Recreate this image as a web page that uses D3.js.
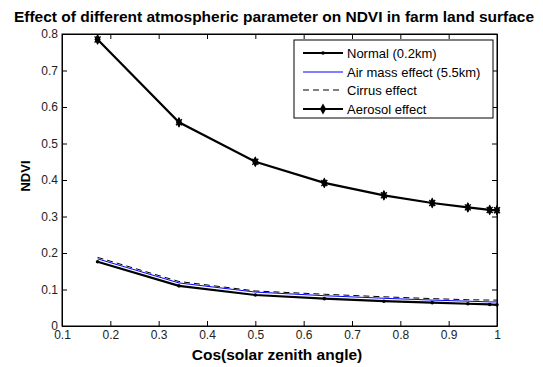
<!DOCTYPE html>
<html>
<head>
<script src="https://d3js.org/d3.v7.min.js"></script>
<style>
  body { margin: 0; background: #fff; font-family: "Liberation Sans", Arial, sans-serif; }
</style>
</head>
<body>
<div id="chart"></div>
<script>
// cos(solar zenith angle) for 80,70,...,0 degrees
var cosZenith = [0.1736, 0.342, 0.5, 0.6428, 0.766, 0.866, 0.9397, 0.9848, 1.0];
var normal   = [0.176, 0.110, 0.085, 0.075, 0.068, 0.064, 0.061, 0.059, 0.058];
var airMass  = [0.184, 0.118, 0.093, 0.083, 0.076, 0.071, 0.068, 0.066, 0.066];
var cirrus   = [0.188, 0.122, 0.096, 0.087, 0.080, 0.075, 0.072, 0.071, 0.071];
var aerosol  = [0.785, 0.558, 0.450, 0.392, 0.358, 0.337, 0.325, 0.318, 0.317];
var xTicks = [0.1, 0.2, 0.3, 0.4, 0.5, 0.6, 0.7, 0.8, 0.9, 1];
var yTicks = [0, 0.1, 0.2, 0.3, 0.4, 0.5, 0.6, 0.7, 0.8];
var legendNames = ["Normal (0.2km)", "Air mass effect (5.5km)", "Cirrus effect", "Aerosol effect"];

var W = 543, H = 367;
var margin = {top: 34, right: 46, bottom: 41, left: 62};
var width = W - margin.left - margin.right;
var height = H - margin.top - margin.bottom;

var svg = d3.select("#chart").append("svg")
    .attr("width", W).attr("height", H);

var g = svg.append("g")
    .attr("transform", "translate(" + margin.left + "," + margin.top + ")");

var x = d3.scaleLinear().domain([0.1, 1]).range([0, width]);
var y = d3.scaleLinear().domain([0, 0.8]).range([height, 0]);

// axes with inward ticks, MATLAB style box
var fmt = function(d) { return d3.format("")(+d.toFixed(1)); };
g.append("g").attr("transform", "translate(0," + height + ")")
    .call(d3.axisBottom(x).tickValues(xTicks).tickSizeInner(-5).tickSizeOuter(0).tickPadding(4).tickFormat(fmt));
g.append("g")
    .call(d3.axisLeft(y).tickValues(yTicks).tickSizeInner(-5).tickSizeOuter(0).tickPadding(4).tickFormat(fmt));
g.append("g").call(d3.axisTop(x).tickValues(xTicks).tickSizeInner(-5).tickSizeOuter(0).tickFormat(""));
g.append("g").attr("transform", "translate(" + width + ",0)")
    .call(d3.axisRight(y).tickValues(yTicks).tickSizeInner(-5).tickSizeOuter(0).tickFormat(""));
g.selectAll(".domain").attr("stroke", "#000");
g.selectAll(".tick line").attr("stroke", "#000");
g.selectAll(".tick text").attr("font-size", 12).attr("fill", "#222")
    .attr("font-family", "Liberation Sans, Arial, sans-serif");

g.append("rect").attr("width", width).attr("height", height)
    .attr("fill", "none").attr("stroke", "#000").attr("stroke-width", 1);

var line = d3.line().x(function(d) { return x(d[0]); }).y(function(d) { return y(d[1]); });
function pts(arr) { return cosZenith.map(function(c, i) { return [c, arr[i]]; }); }

g.append("path").datum(pts(normal)).attr("d", line)
    .attr("fill", "none").attr("stroke", "#000").attr("stroke-width", 2.2);
g.append("path").datum(pts(airMass)).attr("d", line)
    .attr("fill", "none").attr("stroke", "#0000ff").attr("stroke-width", 1);
g.append("path").datum(pts(cirrus)).attr("d", line)
    .attr("fill", "none").attr("stroke", "#000").attr("stroke-width", 1).attr("stroke-dasharray", "6,4");
g.append("path").datum(pts(aerosol)).attr("d", line)
    .attr("fill", "none").attr("stroke", "#000").attr("stroke-width", 2.2);

// markers
g.selectAll(".dotN").data(pts(normal)).enter().append("circle")
    .attr("cx", function(d) { return x(d[0]); }).attr("cy", function(d) { return y(d[1]); })
    .attr("r", 1.8).attr("fill", "#000");
var star = d3.symbol().type(d3.symbolDiamond).size(34);
var aer = g.selectAll(".aer").data(pts(aerosol)).enter().append("g")
    .attr("transform", function(d) { return "translate(" + x(d[0]) + "," + y(d[1]) + ")"; });
aer.append("path").attr("d", star).attr("fill", "#000");
aer.append("path").attr("d", "M-3,-3L3,3M-3,3L3,-3M0,-4.5L0,4.5").attr("stroke", "#000").attr("stroke-width", 1.3);

// legend
var lg = svg.append("g").attr("transform", "translate(294,40)");
lg.append("rect").attr("width", 199).attr("height", 78)
    .attr("fill", "#fff").attr("stroke", "#000").attr("stroke-width", 1);
var rows = [13, 32, 50, 69];
var styles = [
  {stroke: "#000", w: 2, dash: null},
  {stroke: "#0000ff", w: 1, dash: null},
  {stroke: "#000", w: 1, dash: "6,4"},
  {stroke: "#000", w: 2, dash: null}
];
legendNames.forEach(function(name, i) {
  var r = lg.append("g").attr("transform", "translate(0," + rows[i] + ")");
  r.append("line").attr("x1", 9).attr("x2", 49).attr("y1", 0).attr("y2", 0)
    .attr("stroke", styles[i].stroke).attr("stroke-width", styles[i].w)
    .attr("stroke-dasharray", styles[i].dash);
  if (i === 0) r.append("circle").attr("cx", 29).attr("cy", 0).attr("r", 1.8).attr("fill", "#000");
  if (i === 3) {
    r.append("path").attr("d", star).attr("transform", "translate(29,0)").attr("fill", "#000");
  }
  r.append("text").attr("x", 53).attr("y", 4.5).attr("font-size", 13).attr("fill", "#000").text(name);
});

// title and axis labels
svg.append("text").attr("x", 274).attr("y", 22).attr("text-anchor", "middle")
    .attr("font-size", 15.5).attr("font-weight", "bold").text("Effect of different atmospheric parameter on NDVI in farm land surface");
svg.append("text").attr("x", 277).attr("y", 360).attr("text-anchor", "middle")
    .attr("font-size", 15.5).attr("font-weight", "bold").text("Cos(solar zenith angle)");
svg.append("text").attr("transform", "translate(30,176) rotate(-90)").attr("text-anchor", "middle")
    .attr("font-size", 13).attr("font-weight", "bold").text("NDVI");
</script>
</body>
</html>
